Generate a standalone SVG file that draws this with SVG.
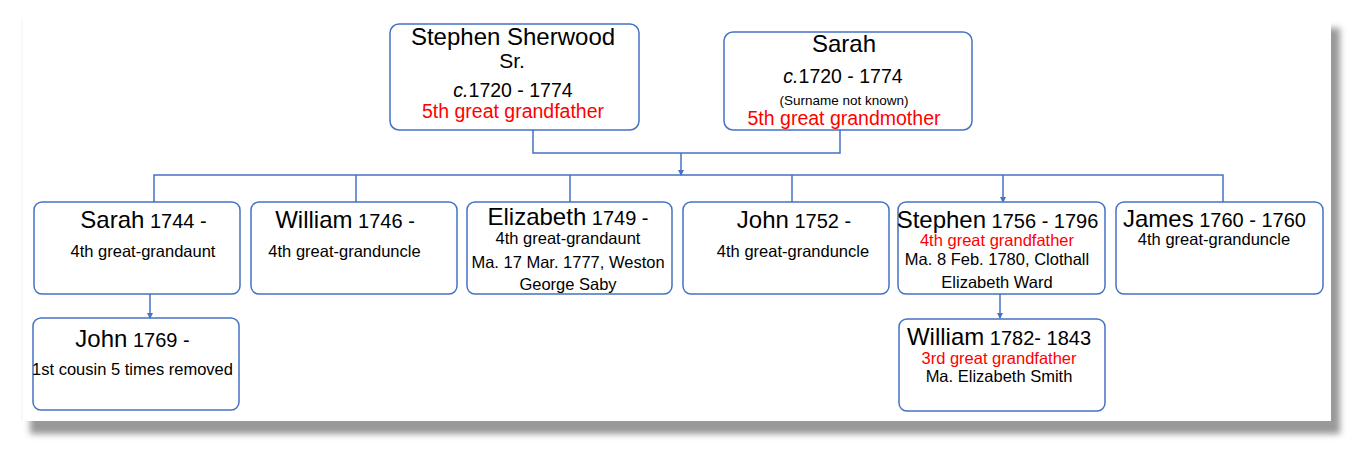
<svg xmlns="http://www.w3.org/2000/svg" width="1368" height="454" viewBox="0 0 1368 454">
<style>
.box{fill:#fff;stroke:#4472C4;stroke-width:1.5}
.ln{fill:none;stroke:#4472C4;stroke-width:1.5}
text{font-family:"Liberation Sans",Arial,sans-serif;text-anchor:middle;fill:#000}
.nm{font-size:24px}
.dt{font-size:20px}
.sb{font-size:16.5px}
.red{fill:#FF0000}
.tn{font-size:24px}
.tc{font-size:19.5px}
.tr{font-size:19.5px;fill:#FF0000}
</style>
<defs>
<filter id="sh" x="-5%" y="-5%" width="110%" height="115%"><feGaussianBlur stdDeviation="3"/></filter>
<marker id="ar" markerWidth="6" markerHeight="6" refX="5" refY="3" orient="auto" markerUnits="userSpaceOnUse"><path d="M0,0 L6,3 L0,6 z" fill="#4472C4"/></marker>
</defs>
<rect width="1368" height="454" fill="#fff"/>
<rect x="30" y="28" width="1310" height="406" fill="#999" filter="url(#sh)"/>
<rect x="22" y="18" width="1309" height="403" fill="#fff"/>
<line x1="22" y1="20" x2="22" y2="421" stroke="#f2f2f2" stroke-width="1"/>

<g id="connectors">
<path class="ln" d="M533,130 V153 H840 V130"/>
<path class="ln" d="M681,153 V175" marker-end="url(#ar)"/>
<path class="ln" d="M154,202 V175 H1223 V202"/>
<path class="ln" d="M356,175 V202"/>
<path class="ln" d="M570,175 V202"/>
<path class="ln" d="M792,175 V202"/>
<path class="ln" d="M1003,175 V202" marker-end="url(#ar)"/>
<path class="ln" d="M150,294 V318" marker-end="url(#ar)"/>
<path class="ln" d="M1000,294 V318" marker-end="url(#ar)"/>
</g>

<g id="stephen-sr">
<rect class="box" x="390" y="24" width="249" height="106" rx="9"/>
<text x="513" y="45" class="tn">Stephen Sherwood</text>
<text x="512" y="68" style="font-size:21px">Sr.</text>
<text x="513" y="97" class="tc"><tspan font-style="italic">c.</tspan>1720 - 1774</text>
<text x="513" y="118" class="tr">5th great grandfather</text>
</g>

<g id="sarah-sr">
<rect class="box" x="724" y="32" width="248" height="98" rx="9"/>
<text x="844" y="52" class="tn">Sarah</text>
<text x="843" y="83" class="tc"><tspan font-style="italic">c.</tspan>1720 - 1774</text>
<text x="844" y="105" style="font-size:13.5px">(Surname not known)</text>
<text x="844" y="125" class="tr">5th great grandmother</text>
</g>

<g id="sarah">
<rect class="box" x="34" y="202" width="206" height="92" rx="8"/>
<text x="143.5" y="228"><tspan class="nm">Sarah</tspan><tspan class="dt"> 1744 -</tspan></text>
<text x="143" y="257" class="sb">4th great-grandaunt</text>
</g>

<g id="william">
<rect class="box" x="251" y="202" width="206" height="92" rx="8"/>
<text x="345" y="228"><tspan class="nm">William</tspan><tspan class="dt"> 1746 -</tspan></text>
<text x="344.5" y="257" class="sb">4th great-granduncle</text>
</g>

<g id="elizabeth">
<rect class="box" x="467" y="202" width="205" height="92" rx="8"/>
<text x="568" y="225"><tspan class="nm">Elizabeth</tspan><tspan class="dt"> 1749 -</tspan></text>
<text x="568" y="244" class="sb">4th great-grandaunt</text>
<text x="568" y="268" class="sb">Ma. 17 Mar. 1777, Weston</text>
<text x="568" y="290" class="sb">George Saby</text>
</g>

<g id="john">
<rect class="box" x="683" y="202" width="206" height="92" rx="8"/>
<text x="794" y="228"><tspan class="nm">John</tspan><tspan class="dt"> 1752 -</tspan></text>
<text x="793" y="257" class="sb">4th great-granduncle</text>
</g>

<g id="stephen">
<rect class="box" x="898" y="202" width="207" height="92" rx="8"/>
<text x="997.5" y="228"><tspan class="nm">Stephen</tspan><tspan class="dt"> 1756 - 1796</tspan></text>
<text x="997" y="246" class="sb red">4th great grandfather</text>
<text x="997" y="265" class="sb">Ma. 8 Feb. 1780, Clothall</text>
<text x="997" y="288" class="sb">Elizabeth Ward</text>
</g>

<g id="james">
<rect class="box" x="1116" y="202" width="207" height="92" rx="8"/>
<text x="1214.5" y="227"><tspan class="nm">James</tspan><tspan class="dt"> 1760 - 1760</tspan></text>
<text x="1214" y="245" class="sb">4th great-granduncle</text>
</g>

<g id="john-1769">
<rect class="box" x="33" y="318" width="206" height="92" rx="8"/>
<text x="132.5" y="347"><tspan class="nm">John</tspan><tspan class="dt"> 1769 -</tspan></text>
<text x="132.5" y="375" class="sb">1st cousin 5 times removed</text>
</g>

<g id="william-1782">
<rect class="box" x="899" y="319" width="206" height="92" rx="8"/>
<text x="999" y="345"><tspan class="nm">William</tspan><tspan class="dt"> 1782- 1843</tspan></text>
<text x="999" y="364" class="sb red">3rd great grandfather</text>
<text x="999" y="382" class="sb">Ma. Elizabeth Smith</text>
</g>
</svg>
